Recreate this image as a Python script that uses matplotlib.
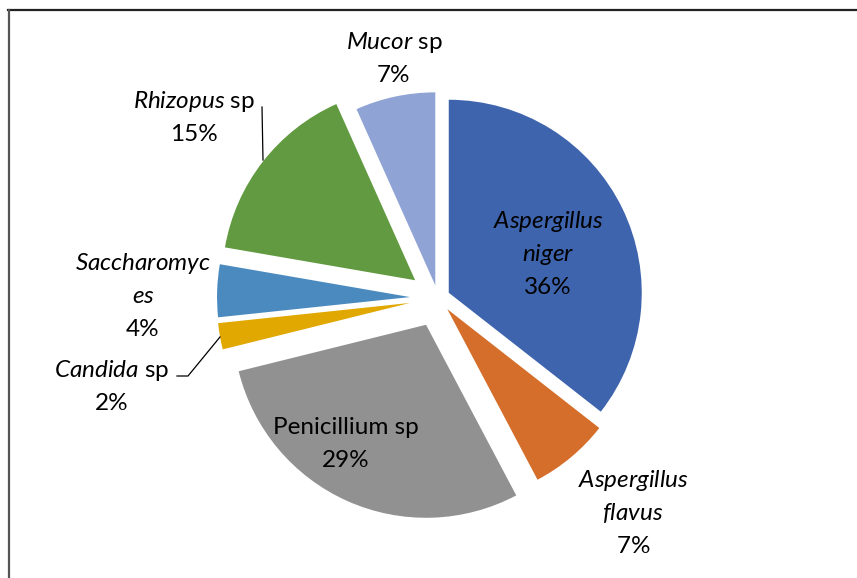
import matplotlib
matplotlib.use("Agg")
import matplotlib.pyplot as plt
from matplotlib.lines import Line2D

plt.rcParams["font.family"] = ["Lato", "DejaVu Sans"]
plt.rcParams["mathtext.fontset"] = "custom"
plt.rcParams["mathtext.rm"] = "Lato"
plt.rcParams["mathtext.it"] = "Lato:italic"

# slices, clockwise from 12 o'clock
names = ["Aspergillus niger", "Aspergillus flavus", "Penicillium sp", "Candida sp",
         "Saccharomyces", "Rhizopus sp", "Mucor sp"]
# wedge sizes as drawn (%), and the rounded labels printed on the chart
shares = [35.6, 6.7, 28.9, 2.2, 4.4, 15.6, 6.7]
pct_labels = ["36%", "7%", "29%", "2%", "4%", "15%", "7%"]
colors = ["#3E64AD", "#D46E2A", "#919191", "#E0A800", "#4B8ABE", "#619A40", "#8FA3D4"]
explode = [0.062, 0.075, 0.152, 0.147, 0.145, 0.15, 0.067]

# label lines above the percentage; italic genus names via mathtext
label_lines = [
    ["$\\mathit{Aspergillus}$", "$\\mathit{niger}$"],
    ["$\\mathit{Aspergillus}$", "$\\mathit{flavus}$"],
    ["Penicillium sp"],
    ["$\\mathit{Candida}$ sp"],
    ["$\\mathit{Saccharomyc}$", "$\\mathit{es}$"],
    ["$\\mathit{Rhizopus}$ sp"],
    ["$\\mathit{Mucor}$ sp"],
]
pct_italic = [False, True, False, False, False, False, False]
# x centre and y of first line (pixels, from top-left)
label_xy = [(548, 221), (633, 480), (346, 427), (112, 370), (143, 263), (194, 101), (394, 42)]
line_step = 33

W, H = 857, 578
fig = plt.figure(figsize=(W / 100, H / 100), dpi=100)
ax = fig.add_axes([0, 0, 1, 1])

cx, cy, R = 438, 298, 193
# matplotlib offsets exploded wedges by the raw value, so scale by radius
ax.pie(shares, colors=colors, explode=[e * R for e in explode], startangle=90,
       counterclock=False, radius=R, center=(cx, H - cy), wedgeprops=dict(linewidth=0))
ax.set_xlim(0, W)
ax.set_ylim(0, H)
ax.set_aspect("equal")
ax.axis("off")

for lines, pct, it, (x, y) in zip(label_lines, pct_labels, pct_italic, label_xy):
    if it:
        pct = "$\\mathit{" + pct.replace("%", "\\%") + "}$"
    for i, s in enumerate(lines + [pct]):
        ax.text(x, H - (y + i * line_step + 7), s, ha="center", va="baseline",
                fontsize=17.5, color="black")

# leader lines
ax.plot([262, 263], [H - 107, H - 160], color="black", lw=0.9)
ax.plot([177, 188, 220], [H - 376, H - 376, H - 337], color="black", lw=0.9)

# chart-area border (partly cut off in the reference)
fig.add_artist(Line2D([8 / W, 1], [1 - 10 / H, 1 - 10 / H], color="#222222", lw=1.6))
fig.add_artist(Line2D([9 / W, 9 / W], [0, 1 - 10 / H], color="#555555", lw=1.6))

fig.savefig("out.png", dpi=100)
